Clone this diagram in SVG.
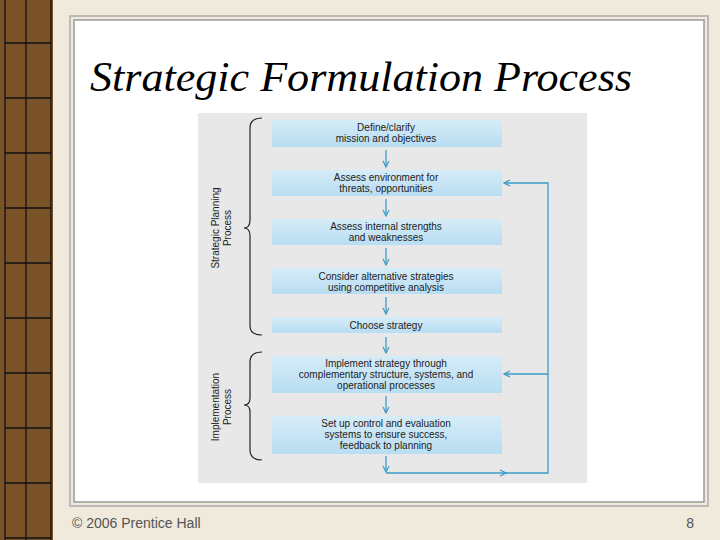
<svg xmlns="http://www.w3.org/2000/svg" width="720" height="540" viewBox="0 0 720 540">
<defs>
<linearGradient id="bx" x1="0" y1="0" x2="0" y2="1"><stop offset="0" stop-color="#d6ecf8"/><stop offset="1" stop-color="#b8ddf2"/></linearGradient>
<marker id="ah" markerWidth="8" markerHeight="8" refX="7" refY="4" orient="auto" markerUnits="userSpaceOnUse"><path d="M1,1 L7,4 L1,7" fill="none" stroke="#3a9cc8" stroke-width="1.2"/></marker>
</defs>
<style>
.box{fill:url(#bx)}
.t{font-family:"Liberation Sans",Arial,sans-serif;font-size:10px;fill:#222;text-anchor:middle}
.c{stroke:#3a9cc8;stroke-width:1.3;fill:none}
.br{stroke:#222;stroke-width:1.2;fill:none}
.g{stroke:#111;stroke-width:1.3}
</style>
<rect width="720" height="540" fill="#efeadb"/>
<g id="wood">
<rect x="0" y="0" width="53" height="540" fill="#7a5228"/>
<line class="g" x1="5" y1="0" x2="5" y2="540"/><line class="g" x1="26" y1="0" x2="26" y2="540"/><line class="g" x1="51" y1="0" x2="51" y2="540"/>
<line class="g" x1="5" y1="43" x2="51" y2="43"/><line class="g" x1="5" y1="98" x2="51" y2="98"/><line class="g" x1="5" y1="153" x2="51" y2="153"/><line class="g" x1="5" y1="208" x2="51" y2="208"/><line class="g" x1="5" y1="263" x2="51" y2="263"/><line class="g" x1="5" y1="318" x2="51" y2="318"/><line class="g" x1="5" y1="373" x2="51" y2="373"/><line class="g" x1="5" y1="428" x2="51" y2="428"/><line class="g" x1="5" y1="483" x2="51" y2="483"/><line class="g" x1="5" y1="538" x2="51" y2="538"/>
</g>
<rect x="70" y="16" width="638" height="490" fill="none" stroke="#aaa" stroke-width="1.5"/>
<rect x="74" y="20" width="630" height="482" fill="#fff" stroke="#999" stroke-width="1.5"/>
<text x="90" y="91" font-family="Liberation Serif,serif" font-style="italic" font-size="42" textLength="542" lengthAdjust="spacingAndGlyphs" fill="#000">Strategic Formulation Process</text>
<rect x="198" y="113" width="389" height="370" fill="#e8e8e8"/>
<g id="connectors">
<line class="c" x1="386" y1="150" x2="386" y2="167" marker-end="url(#ah)"/>
<line class="c" x1="386" y1="199" x2="386" y2="216" marker-end="url(#ah)"/>
<line class="c" x1="386" y1="248" x2="386" y2="265" marker-end="url(#ah)"/>
<line class="c" x1="386" y1="297" x2="386" y2="314" marker-end="url(#ah)"/>
<line class="c" x1="386" y1="337" x2="386" y2="353" marker-end="url(#ah)"/>
<line class="c" x1="386" y1="396" x2="386" y2="413" marker-end="url(#ah)"/>
<line class="c" x1="386" y1="456" x2="386" y2="472" marker-end="url(#ah)"/>
<line class="c" x1="386" y1="473" x2="506" y2="473" marker-end="url(#ah)"/>
<polyline class="c" points="506,473 548,473 548,183 504,183" marker-end="url(#ah)"/>
<line class="c" x1="548" y1="374" x2="504" y2="374" marker-end="url(#ah)"/>
</g>
<g id="n1"><rect class="box" x="272" y="120" width="230" height="27"/><text class="t" x="386" y="131">Define/clarify</text><text class="t" x="386" y="142">mission and objectives</text></g>
<g id="n2"><rect class="box" x="272" y="170" width="230" height="26"/><text class="t" x="386" y="181">Assess environment for</text><text class="t" x="386" y="192">threats, opportunities</text></g>
<g id="n3"><rect class="box" x="272" y="219" width="230" height="26"/><text class="t" x="386" y="230">Assess internal strengths</text><text class="t" x="386" y="241">and weaknesses</text></g>
<g id="n4"><rect class="box" x="272" y="268" width="230" height="26"/><text class="t" x="386" y="280">Consider alternative strategies</text><text class="t" x="386" y="291">using competitive analysis</text></g>
<g id="n5"><rect class="box" x="272" y="317" width="230" height="16"/><text class="t" x="386" y="329">Choose strategy</text></g>
<g id="n6"><rect class="box" x="272" y="356" width="230" height="37"/><text class="t" x="386" y="367">Implement strategy through</text><text class="t" x="386" y="378">complementary structure, systems, and</text><text class="t" x="386" y="389">operational processes</text></g>
<g id="n7"><rect class="box" x="272" y="416" width="230" height="38"/><text class="t" x="386" y="427">Set up control and evaluation</text><text class="t" x="386" y="438">systems to ensure success,</text><text class="t" x="386" y="449">feedback to planning</text></g>
<g id="braces">
<path class="br" d="M262,118 Q250,118 250,128 L250,220 Q250,228 244,228 Q250,228 250,236 L250,326 Q250,335 262,335"/>
<path class="br" d="M262,352 Q250,352 250,362 L250,398 Q250,405 244,405 Q250,405 250,412 L250,450 Q250,460 262,460"/>
<text class="t" transform="translate(219,228) rotate(-90)" font-size="9.5">Strategic Planning</text>
<text class="t" transform="translate(231,228) rotate(-90)" font-size="9.5">Process</text>
<text class="t" transform="translate(219,407) rotate(-90)" font-size="9.5">Implementation</text>
<text class="t" transform="translate(231,407) rotate(-90)" font-size="9.5">Process</text>
</g>
<text x="72" y="528" font-family="Liberation Sans,sans-serif" font-size="14" fill="#555">© 2006 Prentice Hall</text>
<text x="694" y="528" font-family="Liberation Sans,sans-serif" font-size="14" fill="#555" text-anchor="end">8</text>
</svg>
